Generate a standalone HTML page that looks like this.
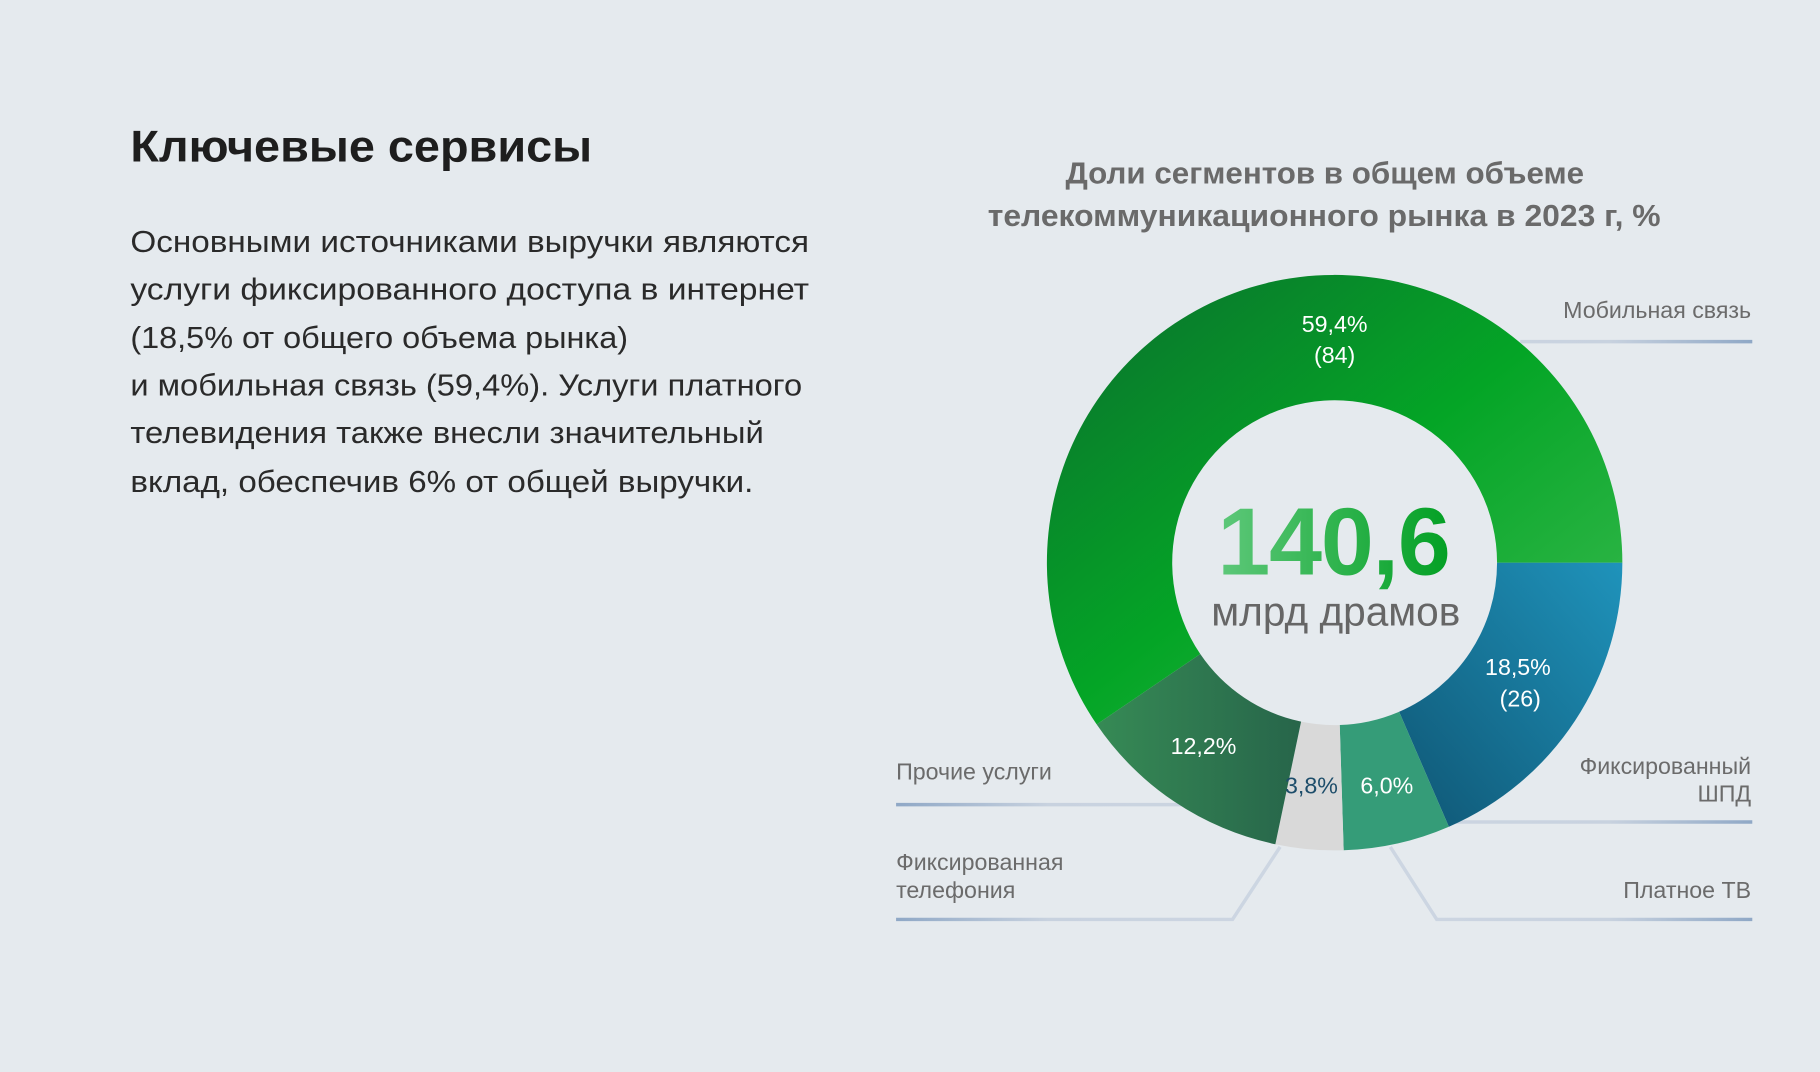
<!DOCTYPE html>
<html><head><meta charset="utf-8"><style>
html,body{margin:0;padding:0;background:#e5eaee;}
svg{display:block;}
text{font-family:"Liberation Sans",sans-serif;}
</style></head><body>
<svg width="1820" height="1072" viewBox="0 0 1568 924" xmlns="http://www.w3.org/2000/svg">
<defs>
<linearGradient id="gm" x1="0" y1="0" x2="1" y2="1">
<stop offset="0" stop-color="#0b6e2e"/><stop offset="0.5" stop-color="#04a526"/><stop offset="1" stop-color="#3dbb52"/></linearGradient>
<linearGradient id="gb" x1="1" y1="0" x2="0" y2="1">
<stop offset="0" stop-color="#1f93bb"/><stop offset="1" stop-color="#0f5674"/></linearGradient>
<linearGradient id="go" x1="0" y1="0" x2="1" y2="0">
<stop offset="0" stop-color="#368a55"/><stop offset="1" stop-color="#27654a"/></linearGradient>
<linearGradient id="gc" x1="0" y1="0" x2="1" y2="0">
<stop offset="0" stop-color="#5ec87a"/><stop offset="1" stop-color="#03a024"/></linearGradient>
<linearGradient id="lr" gradientUnits="userSpaceOnUse" x1="1200" y1="0" x2="1510" y2="0">
<stop offset="0" stop-color="#cdd6e2"/><stop offset="0.6" stop-color="#c8d2df"/><stop offset="1" stop-color="#8fa8c6"/></linearGradient>
<linearGradient id="ll" gradientUnits="userSpaceOnUse" x1="1100" y1="0" x2="772" y2="0">
<stop offset="0" stop-color="#cdd6e2"/><stop offset="0.6" stop-color="#c8d2df"/><stop offset="1" stop-color="#8fa8c6"/></linearGradient>
</defs>
<rect width="1568" height="924" fill="#e5eaee"/>
<text x="112" y="139" font-size="38" font-weight="bold" fill="#1e1e1e" textLength="398" lengthAdjust="spacingAndGlyphs">Ключевые сервисы</text>
<g font-size="26" fill="#2a2a2a">
<text x="112" y="217" textLength="585" lengthAdjust="spacingAndGlyphs">Основными источниками выручки являются</text>
<text x="112" y="258" textLength="585" lengthAdjust="spacingAndGlyphs">услуги фиксированного доступа в интернет</text>
<text x="112" y="300" textLength="429" lengthAdjust="spacingAndGlyphs">(18,5% от общего объема рынка)</text>
<text x="112" y="341" textLength="579" lengthAdjust="spacingAndGlyphs">и мобильная связь (59,4%). Услуги платного</text>
<text x="112" y="382" textLength="546" lengthAdjust="spacingAndGlyphs">телевидения также внесли значительный</text>
<text x="112" y="424" textLength="537" lengthAdjust="spacingAndGlyphs">вклад, обеспечив 6% от общей выручки.</text>
</g>
<g font-size="26" font-weight="bold" fill="#6a6a6a">
<text x="918" y="158" textLength="447" lengthAdjust="spacingAndGlyphs">Доли сегментов в общем объеме</text>
<text x="851" y="195" textLength="580" lengthAdjust="spacingAndGlyphs">телекоммуникационного рынка в 2023 г, %</text>
</g>
<!-- leader lines -->
<g fill="none" stroke-width="3">
<path d="M1310 294.5 H1510" stroke="url(#lr)"/>
<path d="M1250 708.5 H1510" stroke="url(#lr)"/>
<path d="M1198 730 L1238 792.5 H1510" stroke="url(#lr)"/>
<path d="M1022 693.5 H772" stroke="url(#ll)"/>
<path d="M1103 730 L1062 792.5 H772" stroke="url(#ll)"/>
</g>
<!-- donut -->
<path d="M1398 485 A248 248 0 0 1 1248.5 712.6 L1205.6 613.5 A140 140 0 0 0 1290 485 Z" fill="url(#gb)"/>
<path d="M1248.5 712.6 A248 248 0 0 1 1157.8 732.9 L1154.4 624.9 A140 140 0 0 0 1205.6 613.5 Z" fill="#359c78"/>
<path d="M1157.8 732.9 A248 248 0 0 1 1098.9 727.7 L1121.1 622 A140 140 0 0 0 1154.4 624.9 Z" fill="#d9d9d9"/>
<path d="M1098.9 727.7 A248 248 0 0 1 944.9 624.4 L1034.2 563.7 A140 140 0 0 0 1121.1 622 Z" fill="url(#go)"/>
<path d="M944.9 624.4 A248 248 0 1 1 1398 485 L1290 485 A140 140 0 1 0 1034.2 563.7 Z" fill="url(#gm)"/>
<g font-size="20" fill="#fff" text-anchor="middle">
<text x="1150" y="286">59,4%</text><text x="1150" y="313">(84)</text>
<text x="1308" y="582">18,5%</text><text x="1310" y="609">(26)</text>
<text x="1037" y="650">12,2%</text>
<text x="1195" y="684">6,0%</text>
<text x="1130" y="684" fill="#1d4d6a">3,8%</text>
</g>
<text x="1149" y="495" font-size="82" font-weight="bold" fill="url(#gc)" text-anchor="middle" letter-spacing="-1">140,6</text>
<text x="1151" y="539" font-size="35" fill="#666" text-anchor="middle">млрд драмов</text>
<g font-size="20" fill="#6b6b6b">
<text x="1509" y="274" text-anchor="end">Мобильная связь</text>
<text x="1509" y="667" text-anchor="end">Фиксированный</text>
<text x="1509" y="691" text-anchor="end">ШПД</text>
<text x="1509" y="774" text-anchor="end">Платное ТВ</text>
<text x="772" y="672">Прочие услуги</text>
<text x="772" y="750">Фиксированная</text>
<text x="772" y="774">телефония</text>
</g>
</svg>
</body></html>
